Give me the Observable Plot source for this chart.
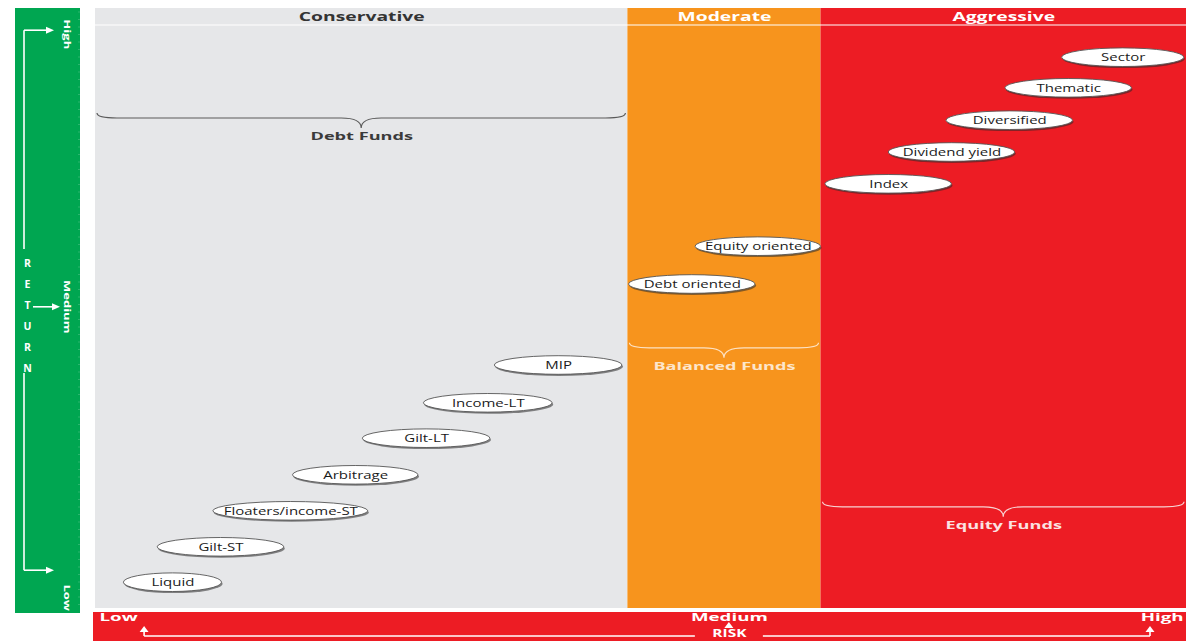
<!DOCTYPE html>
<html><head><meta charset="utf-8">
<script src="https://cdn.jsdelivr.net/npm/d3@7"></script>
<script src="https://cdn.jsdelivr.net/npm/@observablehq/plot@0.6"></script>
<style>
html,body{margin:0;padding:0;background:#fff;}
#chart{width:1186px;height:641px;overflow:hidden;}
</style></head><body><div id="chart"></div>
<script>
// ---- Data ----
// Risk zones (risk scale 0–100)
const zoneNames = ["Conservative", "Moderate", "Aggressive"];
const zoneRiskFrom = [0, 48.8, 66.5];
const zoneRiskTo = [48.8, 66.5, 100];
// Fund groups (one per zone) and the return level of their brace
const groupNames = ["Debt Funds", "Balanced Funds", "Equity Funds"];
const groupLevel = [82.5, 44.2, 17.7];
// Fund categories: risk range and return (return scale 0–100)
const fundNames = ["Liquid", "Gilt-ST", "Floaters/income-ST", "Arbitrage", "Gilt-LT", "Income-LT", "MIP",
  "Debt oriented", "Equity oriented", "Index", "Dividend yield", "Diversified", "Thematic", "Sector"];
const fundRiskLow  = [2.6, 5.7, 10.8, 18.1, 24.5, 30.1, 36.6, 48.9, 55.0, 66.9, 72.7, 78.0, 83.4, 88.6];
const fundRiskHigh = [11.6, 17.3, 25.0, 29.6, 36.2, 41.9, 48.3, 60.5, 66.5, 78.5, 84.3, 89.6, 95.0, 99.8];
const fundReturn   = [4.3, 10.2, 16.2, 22.2, 28.3, 34.2, 40.5, 54.0, 60.3, 70.7, 76.0, 81.3, 86.7, 91.8];
// Axis tick labels
const riskTicks = ["Low", "Medium", "High"];
const riskTickValues = [0, 58.1, 100];
const riskArrowValues = [4.5, 58.1, 96.7];
const returnTicks = ["High", "Medium", "Low"];
const returnLabelValues = [95.7, 50.3, 1.8];
const returnArrowValues = [96.3, 50.2, 6.3];
const axisTitleRisk = "RISK";
const axisTitleReturn = "RETURN";

// ---- Styles ----
const zoneColors = ["#e6e7e9", "#f7941d", "#ed1c24"];
const zoneHeaderColors = ["#333333", "#ffffff", "#ffffff"];
const braceColors = ["#5a5a5a", "#fde2c4", "#f8d2d2"];
const groupLabelColors = ["#3a3a3a", "#fde6cc", "#fbe2e2"];
const GREEN = "#00a651", RED = "#ed1c24";
const FONT = "'Open Sans', 'DejaVu Sans', sans-serif";

const mid = (i) => (zoneRiskFrom[i] + zoneRiskTo[i]) / 2;

// decorative frame: return bar, risk bar, header separator, arrows
function decor(index, scales, values, dim) {
  const x = scales.x, y = scales.y;
  const g = d3.create("svg:g");
  const top = dim.marginTop, bottom = dim.height - dim.marginBottom;
  // header separator
  g.append("line").attr("x1", dim.marginLeft).attr("x2", dim.width)
    .attr("y1", top + 17).attr("y2", top + 17).attr("stroke", "white").attr("stroke-width", 1.2);
  // return bar (green)
  g.append("rect").attr("x", 15).attr("y", top).attr("width", 65).attr("height", bottom + 5 - top).attr("fill", GREEN);
  // faint ruler ticks
  for (let yy = top + 4; yy < bottom + 4; yy += 7.5) {
    g.append("line").attr("x1", 78).attr("x2", 80).attr("y1", yy).attr("y2", yy)
      .attr("stroke", "#4cc085").attr("stroke-width", 0.6);
  }
  const lx = 24;
  const yTop = y(returnArrowValues[0]), yMid = y(returnArrowValues[1]), yBot = y(returnArrowValues[2]);
  const wl = (x1, y1, x2, y2) => g.append("line").attr("x1", x1).attr("y1", y1).attr("x2", x2).attr("y2", y2)
    .attr("stroke", "white").attr("stroke-width", 1.6);
  const headR = (tx, ty) => g.append("path").attr("d", `M${tx},${ty}L${tx - 8},${ty - 3.5}L${tx - 8},${ty + 3.5}Z`).attr("fill", "white");
  const headU = (tx, ty) => g.append("path").attr("d", `M${tx},${ty}L${tx - 4.5},${ty + 6}L${tx + 4.5},${ty + 6}Z`).attr("fill", "white");
  wl(lx, yTop, lx, 249); wl(lx, 373, lx, yBot);
  wl(lx, yTop, 46, yTop); headR(54, yTop);
  wl(lx, yBot, 46, yBot); headR(54, yBot);
  wl(33, yMid, 52, yMid); headR(60, yMid);
  // risk bar (red)
  const rb = bottom + 4;
  g.append("rect").attr("x", 93).attr("y", rb).attr("width", dim.width - 93).attr("height", dim.height - rb).attr("fill", RED);
  const ay = dim.height - 5;
  const xL = x(riskArrowValues[0]), xM = x(riskArrowValues[1]), xH = x(riskArrowValues[2]);
  wl(xL, ay, xM - 34, ay); wl(xM + 34, ay, xH, ay);
  wl(xL, ay, xL, ay - 5); headU(xL, ay - 10);
  wl(xH, ay, xH, ay - 5); headU(xH, ay - 10);
  wl(xM, ay - 9, xM, ay - 11); headU(xM, ay - 14);
  return g.node();
}

// curly braces under each fund group
function braces(index, scales) {
  const x = scales.x, y = scales.y;
  const g = d3.create("svg:g").attr("fill", "none");
  groupNames.forEach((name, i) => {
    const x1 = x(zoneRiskFrom[i]) + 2, x2 = x(zoneRiskTo[i]) - 2, xc = (x1 + x2) / 2;
    const t = y(groupLevel[i]), f = t + 5, tip = t + 15, q = 20;
    const d = `M${x1},${t}Q${x1},${f} ${x1 + q},${f}L${xc - q},${f}Q${xc},${f} ${xc},${tip}` +
      `Q${xc},${f} ${xc + q},${f}L${x2 - q},${f}Q${x2},${f} ${x2},${t}`;
    g.append("path").attr("d", d).attr("stroke", braceColors[i]).attr("stroke-width", 1.2);
  });
  return g.node();
}

const fundMid = fundNames.map((d, i) => (fundRiskLow[i] + fundRiskHigh[i]) / 2);

const chart = Plot.plot({
  width: 1186, height: 641,
  marginLeft: 95, marginRight: 0, marginTop: 8, marginBottom: 33,
  x: {domain: [0, 100], axis: null},
  y: {domain: [0, 100], axis: null},
  color: {type: "identity"},
  style: {fontFamily: FONT, background: "white", overflow: "hidden"},
  marks: [
    Plot.rect(zoneNames, {x1: zoneRiskFrom, x2: zoneRiskTo, y1: 0, y2: 100, fill: zoneColors}),
    decor,
    braces,
    // ellipse shadow + ellipse
    Plot.rect(fundNames, {x1: fundRiskLow, x2: fundRiskHigh, y1: fundReturn.map(v => v - 1.55), y2: fundReturn.map(v => v + 1.55),
      fill: "#2a2a2a", fillOpacity: 0.55, rx: 90, dx: 1, dy: 1.6}),
    Plot.rect(fundNames, {x1: fundRiskLow, x2: fundRiskHigh, y1: fundReturn.map(v => v - 1.55), y2: fundReturn.map(v => v + 1.55),
      fill: "white", stroke: "#555", strokeWidth: 0.9, rx: 90}),
    Plot.text(fundNames, {x: fundMid, y: fundReturn, fill: "#1a1a1a", fontSize: 10, ariaDescription: "fund"}),
    // zone headers
    Plot.text(zoneNames, {x: zoneNames.map((d, i) => mid(i)), frameAnchor: "top", dy: 9, lineAnchor: "middle",
      textAnchor: "middle", fill: zoneHeaderColors, fontWeight: "bold", fontSize: 11.5, ariaDescription: "hdr"}),
    // group labels
    Plot.text(groupNames, {x: groupNames.map((d, i) => mid(i)), y: groupLevel, dy: 23, fill: groupLabelColors,
      fontWeight: "bold", fontSize: 11, ariaDescription: "grp"}),
    // return axis
    Plot.text(returnTicks, {y: returnLabelValues, frameAnchor: "left", dx: -29, rotate: 90, textAnchor: "middle",
      lineAnchor: "middle", fill: "white", fontWeight: "bold", fontSize: 9, ariaDescription: "vert"}),
    Plot.text([axisTitleReturn], {text: d => d.split("").join("\n"), frameAnchor: "left", dx: -68, dy: 4,
      textAnchor: "middle", lineAnchor: "middle", lineHeight: 2, fill: "white", fontWeight: "bold", fontSize: 10.5}),
    // risk axis
    Plot.text([riskTicks[0]], {x: riskTickValues[0], frameAnchor: "bottom", dy: 9, dx: 4, textAnchor: "start",
      lineAnchor: "middle", fill: "white", fontWeight: "bold", fontSize: 10, ariaDescription: "risk"}),
    Plot.text([riskTicks[1]], {x: riskTickValues[1], frameAnchor: "bottom", dy: 9, textAnchor: "middle",
      lineAnchor: "middle", fill: "white", fontWeight: "bold", fontSize: 10, ariaDescription: "risk"}),
    Plot.text([riskTicks[2]], {x: riskTickValues[2], frameAnchor: "bottom", dy: 9, dx: -3, textAnchor: "end",
      lineAnchor: "middle", fill: "white", fontWeight: "bold", fontSize: 10, ariaDescription: "risk"}),
    Plot.text([axisTitleRisk], {x: riskTickValues[1], frameAnchor: "bottom", dy: 25.5, textAnchor: "middle",
      lineAnchor: "middle", fill: "white", fontWeight: "bold", fontSize: 10, ariaDescription: "risktitle"})
  ]
});

function stretch(desc, k) {
  d3.select(chart).selectAll(`g[aria-description="${desc}"] text`)
    .attr("transform", function () { return (this.getAttribute("transform") || "") + ` scale(${k},1)`; });
}
stretch("fund", 1.5);
stretch("hdr", 1.68);
stretch("grp", 1.65);
stretch("vert", 1.45);
stretch("risk", 1.87);
stretch("risktitle", 1.55);

document.getElementById("chart").appendChild(chart);
</script></body></html>
